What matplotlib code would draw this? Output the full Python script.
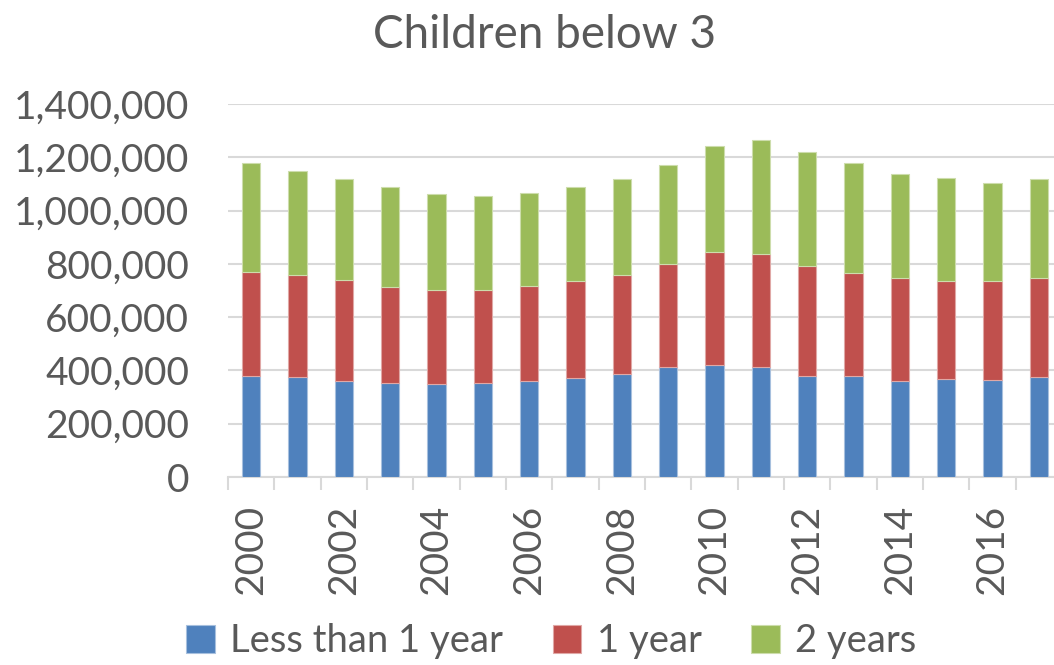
import numpy as np
import matplotlib
matplotlib.use('Agg')
from matplotlib import pyplot as plt
from matplotlib.ticker import FuncFormatter

years = list(range(2000, 2018))
# cumulative tops
top_less1 = [380000, 375000, 361250, 351250, 350000, 352500, 361250, 372500, 386250,
             413750, 418750, 411250, 380000, 380000, 360000, 366250, 362500, 375000]
top_1yr = [771250, 757500, 738750, 713750, 701250, 701250, 716250, 735000, 757500,
           798750, 843750, 838750, 791250, 766250, 746250, 735000, 735000, 746250]
top_2yr = [1180000, 1148750, 1118750, 1090000, 1062500, 1053750, 1065000, 1087500, 1120000,
           1172500, 1243750, 1265000, 1221250, 1180000, 1136250, 1123750, 1105000, 1120000]

less_than_1 = np.array(top_less1)
one_year = np.array(top_1yr) - np.array(top_less1)
two_years = np.array(top_2yr) - np.array(top_1yr)

plt.rcParams['font.family'] = ['Lato', 'DejaVu Sans']
grey = '#595959'

fig = plt.figure(figsize=(10.54, 6.65), dpi=100)
ax = fig.add_axes([228 / 1054, 188 / 665, 834 / 1054, 373 / 665])

x = np.arange(len(years))
w = 0.4
ax.bar(x, less_than_1, w, color='#4F81BD', edgecolor='#A7C0DE', linewidth=0.8,
       label='Less than 1 year', zorder=3)
ax.bar(x, one_year, w, bottom=less_than_1, color='#C0504D', edgecolor='#E0A8A6',
       linewidth=0.8, label='1 year', zorder=3)
ax.bar(x, two_years, w, bottom=less_than_1 + one_year, color='#9BBB59',
       edgecolor='#CDDDAC', linewidth=0.8, label='2 years', zorder=3)

ax.set_xlim(-0.5, len(years) - 0.5)
ax.set_ylim(0, 1400000)
ax.set_yticks(np.arange(0, 1400001, 200000))
ax.yaxis.set_major_formatter(FuncFormatter(lambda v, p: f'{int(v):,}'))
ax.grid(axis='y', color='#D9D9D9', linewidth=1.5, zorder=0)

ax.set_xticks(x[::2])
ax.set_xticklabels([str(y) for y in years[::2]], rotation=90)
ax.set_xticks(np.arange(-0.5, len(years), 1), minor=True)
ax.tick_params(axis='x', which='major', length=0, pad=20, labelsize=28, labelcolor=grey)
ax.tick_params(axis='x', which='minor', length=9, width=1.5, color='#D9D9D9')
ax.tick_params(axis='y', length=0, pad=28, labelsize=28, labelcolor=grey)

for s in ['top', 'right', 'left']:
    ax.spines[s].set_visible(False)
ax.spines['bottom'].set_color('#D9D9D9')
ax.spines['bottom'].set_linewidth(1.5)

fig.text(0.517, 0.948, 'Children below 3', ha='center', va='center', fontsize=33, color=grey)

fig.legend(loc='center', bbox_to_anchor=(0.523, 0.036), ncol=3, frameon=False,
           fontsize=27.5, labelcolor=grey, handlelength=0.75, handleheight=0.75,
           handletextpad=0.4, columnspacing=1.3)

fig.savefig('out.png', dpi=100)
